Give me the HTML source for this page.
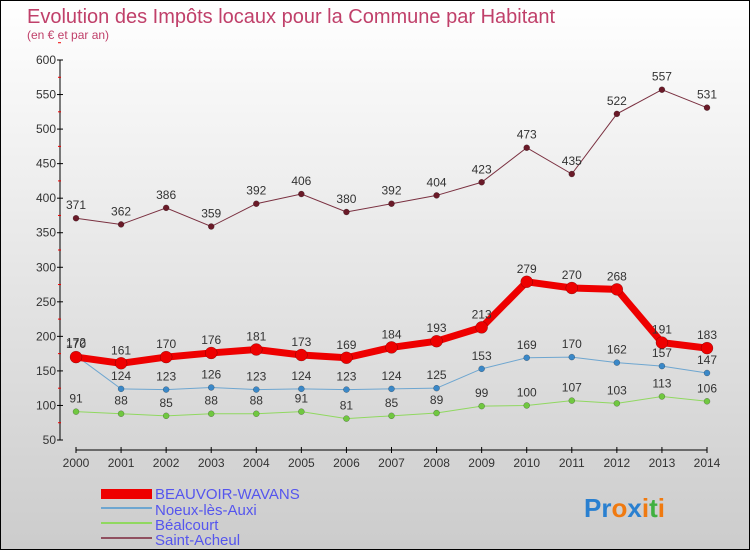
<!DOCTYPE html>
<html><head><meta charset="utf-8"><style>
body{margin:0}
#c{width:748px;height:548px;border:1px solid #000;background:linear-gradient(#fff,#ccc);position:relative;font-family:"Liberation Sans",sans-serif;overflow:hidden}
</style></head><body>
<div id="c">
<svg id="s" width="748" height="548">
<text x="26" y="22" font-size="20" fill="#c0406a">Evolution des Impôts locaux pour la Commune par Habitant</text>
<text x="26" y="38" font-size="12" fill="#c0406a">(en € et par an)</text>
<g id="axes"></g><g id="series"></g>
<g font-size="15" fill="#5555ee">
<rect x="100" y="488" width="51" height="10" fill="#e00"/>
<text x="154" y="498">BEAUVOIR-WAVANS</text>
<rect x="100" y="506" width="51" height="2" fill="#6ea6d0"/>
<text x="154" y="514">Noeux-lès-Auxi</text>
<rect x="100" y="521" width="51" height="2" fill="#90d860"/>
<text x="154" y="529">Béalcourt</text>
<rect x="100" y="536" width="51" height="2" fill="#905060"/>
<text x="154" y="544">Saint-Acheul</text>
</g>
<text x="583" y="516" font-size="26" font-weight="bold"><tspan fill="#2a80d0">Pr</tspan><tspan fill="#f07a10">o</tspan><tspan fill="#2a80d0">x</tspan><tspan fill="#f07a10">i</tspan><tspan fill="#40b040">t</tspan><tspan fill="#f07a10">i</tspan></text>
</svg></div>
<script>
const years=[2000,2001,2002,2003,2004,2005,2006,2007,2008,2009,2010,2011,2012,2013,2014];
const yTicks=[50,100,150,200,250,300,350,400,450,500,550,600];
const beauvoir=[170,161,170,176,181,173,169,184,193,213,279,270,268,191,183];
const noeux=[172,124,123,126,123,124,123,124,125,153,169,170,162,157,147];
const bealcourt=[91,88,85,88,88,91,81,85,89,99,100,107,103,113,106];
const saintAcheul=[371,362,386,359,392,406,380,392,404,423,473,435,522,557,531];
const NS="http://www.w3.org/2000/svg";
const X=i=>75+i*(631/14), Y=v=>59+(600-v)*380/550;
function mk(t,a,p){const e=document.createElementNS(NS,t);for(const k in a)e.setAttribute(k,a[k]);p.appendChild(e);return e;}
const ax=document.getElementById('axes'), sg=document.getElementById('series');
let yl=mk('line',{x1:59,y1:59,x2:59,y2:439,stroke:'#000'},ax);


yTicks.forEach(v=>{
 mk('line',{x1:56,y1:Y(v),x2:62,y2:Y(v),stroke:'#000'},ax);
 mk('line',{x1:57,y1:Y(v+25),x2:60,y2:Y(v+25),stroke:'#e00'},ax);
 const t=mk('text',{x:55,y:Y(v)+4,'font-size':12,fill:'#333','text-anchor':'end'},ax);t.textContent=v;
 
 
});
let xl=mk('line',{x1:75,y1:449,x2:706,y2:449,stroke:'#000'},ax);


years.forEach((y,i)=>{
 mk('line',{x1:X(i),y1:446,x2:X(i),y2:452,stroke:'#000'},ax);
 const t=mk('text',{x:X(i),y:466,'font-size':12,fill:'#333','text-anchor':'middle'},ax);t.textContent=y;
 
 
});
function series(d,col,dot,w,r,name){
 const g=mk('g',{},sg);
 
 
 mk('polyline',{points:d.map((v,i)=>X(i)+','+Y(v)).join(' '),fill:'none',stroke:col,'stroke-width':w},g);
 d.forEach((v,i)=>{
  const c=mk('circle',{cx:X(i),cy:Y(v),r:r,fill:dot,stroke:'rgba(0,0,0,.4)','stroke-width':.5},g);
  
  
  const t=mk('text',{x:X(i),y:Y(v)-9,'font-size':12,fill:'#333','text-anchor':'middle'},g);t.textContent=v;
  
  
 });
}
series(saintAcheul,'#7a3040','#6a1a28',1,3,'saint-acheul');
series(bealcourt,'#90d860','#70c840',1,3,'bealcourt');
series(noeux,'#6ea6d0','#3a88c8',1,3,'noeux');
series(beauvoir,'#ee0000','#ee0000',7,6,'beauvoir');
</script>
</body></html>
